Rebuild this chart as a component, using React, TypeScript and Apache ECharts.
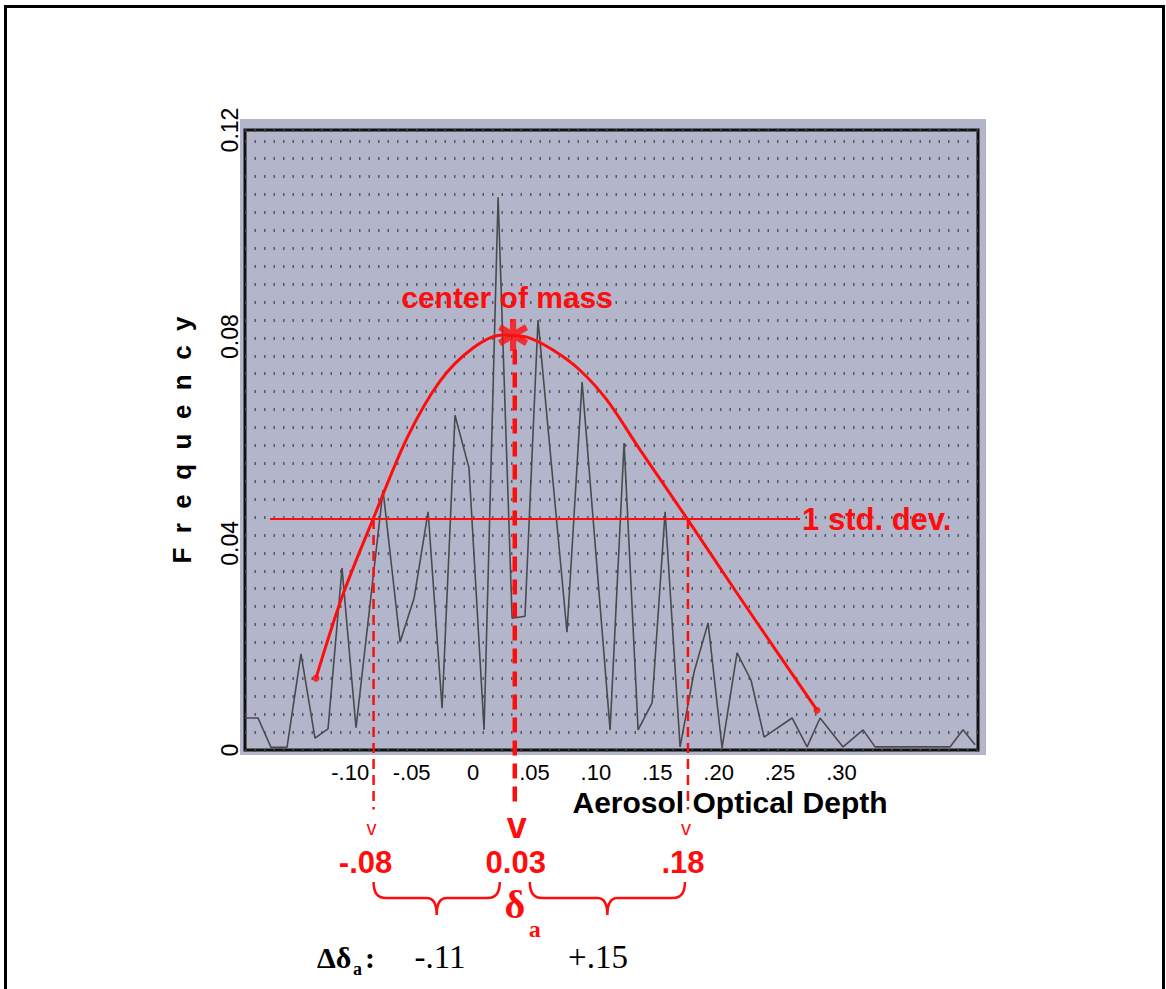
import React, { useEffect, useRef } from 'react';
import * as echarts from 'echarts';

// ---- data ----
const freqX = [-0.1857, -0.1751, -0.1645, -0.1515, -0.1401, -0.1287, -0.1181, -0.1067, -0.0953, -0.0733,
  -0.0594, -0.048, -0.0366, -0.0252, -0.0147, -0.0033, 0.009, 0.0204, 0.0318, 0.0423,
  0.0529, 0.0765, 0.0888, 0.1116, 0.123, 0.1344, 0.1458, 0.1564, 0.1686, 0.18,
  0.1914, 0.2028, 0.215, 0.2264, 0.237, 0.2598, 0.272, 0.2826, 0.3013, 0.3176,
  0.3274, 0.3884, 0.399, 0.4088];
const freqY = [0.0062, 0.0062, 0.0005, 0.0005, 0.0186, 0.0023, 0.0041, 0.0352, 0.0043, 0.0503,
  0.0209, 0.0294, 0.0461, 0.0081, 0.0648, 0.0546, 0.0039, 0.107, 0.0255, 0.0259,
  0.0832, 0.0228, 0.0712, 0.0039, 0.0594, 0.0039, 0.0091, 0.0461, 0.0006, 0.0151,
  0.0246, 0.0004, 0.0188, 0.0135, 0.0025, 0.0062, 0.0006, 0.0062, 0.0006, 0.0039,
  0.0006, 0.0006, 0.0039, 0.001];

const fitX = [-0.1279, -0.1067, -0.0814, -0.0537, -0.0269, 0, 0.0244, 0.044, 0.0651, 0.0871,
  0.1091, 0.136, 0.1751, 0.2117, 0.2443, 0.2801];
const fitY = [0.0139, 0.0296, 0.0447, 0.0604, 0.0714, 0.0778, 0.0803, 0.0799, 0.0774, 0.0735,
  0.0677, 0.0581, 0.0445, 0.0315, 0.0201, 0.0077];

const stdDev = 0.0447;
const stdLineX = [-0.1653, 0.2663];
const boundX = [-0.081, 0.034, 0.175];
const boundLabels = ['-.08', '0.03', '.18'];
const deltaLabels = ['-.11', '+.15'];
const centerOfMass = [0.0326, 0.0803];
const centerDashTop = 0.0775;
const belowAxis = -0.0115;

const xRange = [-0.1857, 0.4112];
const yRange = [0, 0.12];
const xTickValues = [-0.1, -0.05, 0, 0.05, 0.1, 0.15, 0.2, 0.25, 0.3];
const xTickLabels = ['-.10', '-.05', '0', '.05', '.10', '.15', '.20', '.25', '.30'];
const yTickValues = [0, 0.04, 0.08, 0.12];
const yTickLabels = ['0', '0.04', '0.08', '0.12'];

const RED = '#ff0d0d';
const SANS = '"Liberation Sans", Arial, Helvetica, sans-serif';
const SERIF = '"Liberation Serif", "Times New Roman", serif';

const ASTERISK = 'path://M-2 -10L-2 10L2 10L2 -10Z M7.66 6.732L9.66 3.268L-7.66 -6.732L-9.66 -3.268Z M-9.66 3.268L-7.66 6.732L9.66 -3.268L7.66 -6.732Z';

function labelFor(values: number[], labels: string[], v: number) {
  let best = 0;
  for (let i = 1; i < values.length; i++) {
    if (Math.abs(values[i] - v) < Math.abs(values[best] - v)) best = i;
  }
  return labels[best];
}

export default function App() {
  const ref = useRef<HTMLDivElement>(null);
  useEffect(() => {
    const chart = echarts.init(ref.current!, null, { renderer: 'svg' });
    const dash = (x: number, top: number, width: number, pattern: number[]) => ({
      type: 'line',
      data: [[x, top], [x, belowAxis]],
      clip: false,
      symbol: 'none',
      silent: true,
      z: 4,
      lineStyle: { color: RED, width, type: pattern },
    });
    const option: any = {
      animation: false,
      backgroundColor: '#ffffff',
      grid: {
        left: 245, top: 130, width: 733, height: 620,
        show: true, backgroundColor: '#b3b6ca', borderColor: '#111', borderWidth: 3,
      },
      xAxis: {
        type: 'value', min: xRange[0], max: xRange[1],
        axisLine: { show: false }, axisTick: { show: false }, splitLine: { show: false },
        axisLabel: {
          customValues: xTickValues, margin: 11, color: '#000', fontSize: 22,
          fontFamily: SANS,
          formatter: (v: number) => labelFor(xTickValues, xTickLabels, v),
        },
      },
      yAxis: [
        {
          type: 'value', min: yRange[0], max: yRange[1], interval: 0.04,
          name: 'F  r  e  q  u  e  n  c  y', nameLocation: 'middle', nameRotate: 90, nameGap: 50,
          nameTextStyle: { fontSize: 26, fontWeight: 'bold', color: '#000', fontFamily: SANS },
          axisLine: { show: false }, axisTick: { show: false }, splitLine: { show: false },
          axisLabel: {
            rotate: 90, margin: 4, color: '#000', fontSize: 23, fontFamily: SANS,
            formatter: (v: number) => labelFor(yTickValues, yTickLabels, v),
          },
        },
        {
          type: 'value', min: 0, max: 34.6, interval: 1, position: 'right',
          axisLine: { show: false }, axisTick: { show: false }, axisLabel: { show: false },
          splitLine: { show: true, lineStyle: { color: '#474a55', width: 3, type: [1.5, 8], opacity: 0.85 } },
        },
      ],
      series: [
        {
          name: 'frequency', type: 'line', symbol: 'none', z: 3,
          data: freqX.map((x, i) => [x, freqY[i]]),
          lineStyle: { color: '#4a4a4e', width: 1.6 },
        },
        {
          name: 'std', type: 'line', symbol: 'none', z: 4,
          data: stdLineX.map((x) => [x, stdDev]),
          lineStyle: { color: RED, width: 2 },
        },
        dash(boundX[0], stdDev, 2.5, [10, 6]),
        dash(boundX[2], stdDev, 2.5, [10, 6]),
        dash(boundX[1], centerDashTop, 4.5, [15, 8]),
        {
          name: 'fit', type: 'line', symbol: 'none', z: 5, smooth: 0.3,
          data: fitX.map((x, i) => [x, fitY[i]]),
          lineStyle: { color: RED, width: 3 },
        },
        {
          name: 'fitEnds', type: 'scatter', z: 6, symbol: 'circle', symbolSize: 7,
          itemStyle: { color: RED },
          data: [[fitX[0], fitY[0]], [fitX[fitX.length - 1], fitY[fitY.length - 1]]],
        },
        {
          name: 'centerOfMass', type: 'scatter', z: 7, symbol: ASTERISK, symbolSize: [30, 32],
          itemStyle: { color: RED },
          data: [centerOfMass],
        },
      ],
    };
    chart.setOption(option);

    const px = (v: number) => chart.convertToPixel({ xAxisIndex: 0 }, v) as number;
    const py = (v: number) => chart.convertToPixel({ yAxisIndex: 0 }, v) as number;

    const bx = boundX.map(px);
    const yl = 898, y0 = 882, yt = 915;
    const bracePath = (xa: number, xb: number) => {
      const mid = (xa + xb) / 2;
      return `M${xa} ${y0} Q${xa} ${yl} ${xa + 12} ${yl} L${mid - 10} ${yl} Q${mid} ${yl} ${mid} ${yt} Q${mid} ${yl} ${mid + 10} ${yl} L${xb - 12} ${yl} Q${xb} ${yl} ${xb} ${y0}`;
    };
    echarts.graphic.registerShape('braceLeft', echarts.graphic.extendPath(bracePath(bx[0], bx[1] - 15), {}));
    echarts.graphic.registerShape('braceRight', echarts.graphic.extendPath(bracePath(bx[1] + 15, bx[2] - 3), {}));

    const cmX = px(centerOfMass[0]);
    const cmY = py(centerOfMass[1]);
    const txt = (x: number, y: number, text: string, fill: string, fontSize: number, bold: boolean, family: string, align = 'center') => ({
      type: 'text', z: 10, x, y,
      style: { text, fill, fontSize, fontWeight: bold ? 'bold' : 'normal', fontFamily: family, textAlign: align, textVerticalAlign: 'middle' },
    });
    const elements: any[] = [
      { type: 'rect', z: -5, silent: true, shape: { x: 5.5, y: 6.5, width: 1158, height: 1000 }, style: { fill: '#fff', stroke: '#000', lineWidth: 3 } },
      { type: 'rect', z: -1, silent: true, shape: { x: 240, y: 119, width: 746, height: 636 }, style: { fill: '#b3b6ca' } },
      txt(cmX - 6, cmY - 38, 'center of mass', RED, 30, true, SANS),
      txt(px(stdLineX[1]) + 2, py(stdDev), '1 std. dev.', RED, 31, true, SANS, 'left'),
      txt(730, 802, 'Aerosol Optical Depth', '#000', 30, true, SANS),
      { type: 'braceLeft', z: 10, style: { stroke: RED, fill: 'none', lineWidth: 2.5 } },
      { type: 'braceRight', z: 10, style: { stroke: RED, fill: 'none', lineWidth: 2.5 } },
      txt(bx[1], 904, 'δ', RED, 40, true, SERIF),
      txt(bx[1] + 20, 929, 'a', RED, 24, true, SERIF),
      txt(317, 957, 'Δδ', '#000', 30, true, SERIF, 'left'),
      txt(353, 969, 'a', '#000', 18, true, SERIF, 'left'),
      txt(365, 957, ':', '#000', 30, true, SERIF, 'left'),
      txt(440, 957, deltaLabels[0], '#000', 33, false, SERIF),
      txt(598, 957, deltaLabels[1], '#000', 33, false, SERIF),
    ];
    bx.forEach((x, i) => {
      const center = i === 1;
      elements.push(txt(center ? x + 2 : x - 2, center ? 825 : 828, 'v', RED, center ? 36 : 20, center, SANS));
      elements.push(txt(x + (i === 0 ? -8 : i === 2 ? -5 : 1), 862, boundLabels[i], RED, 31, true, SANS));
    });
    chart.setOption({ graphic: { elements } });
    return () => chart.dispose();
  }, []);
  return <div ref={ref} style={{ position: 'fixed', left: 0, top: 0, width: 1166, height: 989 }} />;
}
